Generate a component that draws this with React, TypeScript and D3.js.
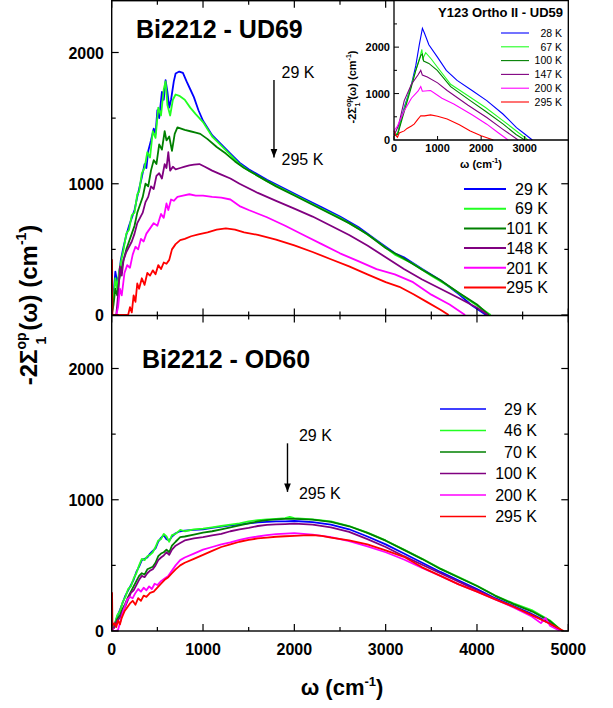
import React, { useEffect, useRef } from 'react';
import * as d3 from 'd3';

type Pt = [number, number];

const xTicks = [0, 1000, 2000, 3000, 4000, 5000];
const yTicks = [0, 1000, 2000];
const insetXTicks = [0, 1000, 2000, 3000];
const insetYTicks = [0, 1000, 2000];

const ud69Temps = ['29 K', '69 K', '101 K', '148 K', '201 K', '295 K'];
const od60Temps = ['29 K', '46 K', '70 K', '100 K', '200 K', '295 K'];
const y123Temps = ['28 K', '67 K', '100 K', '147 K', '200 K', '295 K'];

const tempColors = ['#0000ff', '#22ff22', '#008000', '#800080', '#ff00ff', '#ff0000'];

// Bi2212 UD69 (top panel)
const ud69_29: Pt[] = [[0,0],[20,150],[40,330],[60,250],[80,300],[100,420],[130,520],[160,610],[190,680],[220,740],[250,800],[280,900],[300,960],[330,1050],[360,1150],[380,1120],[400,1250],[430,1330],[460,1420],[480,1380],[500,1560],[520,1500],[550,1700],[570,1640],[590,1790],[610,1700],[630,1580],[650,1640],[680,1780],[700,1840],[740,1855],[780,1845],[820,1780],[860,1720],[900,1660],[950,1560],[1000,1480],[1100,1370],[1200,1300],[1300,1230],[1400,1160],[1500,1110],[1700,1030],[1900,960],[2100,890],[2300,820],[2500,750],[2700,670],[2900,570],[3000,520],[3100,470],[3200,440],[3400,350],[3600,265],[3800,160],[3950,70],[4100,0]];
const ud69_69: Pt[] = [[0,0],[20,120],[40,280],[60,200],[80,330],[100,400],[130,500],[160,620],[190,650],[220,760],[250,780],[280,920],[300,940],[330,1080],[360,1120],[390,1240],[420,1200],[450,1400],[480,1350],[510,1580],[540,1520],[570,1720],[590,1780],[610,1600],[640,1520],[670,1640],[700,1680],[740,1670],[800,1640],[860,1580],[920,1530],[1000,1470],[1100,1360],[1200,1290],[1300,1220],[1400,1150],[1500,1100],[1700,1020],[1900,950],[2100,880],[2300,810],[2500,740],[2700,660],[2900,565],[3100,460],[3300,390],[3500,300],[3700,215],[3900,120],[4150,0]];
const ud69_101: Pt[] = [[0,0],[20,80],[40,200],[60,150],[80,260],[100,330],[130,420],[160,500],[190,560],[220,620],[250,680],[280,780],[310,840],[340,900],[370,1000],[400,980],[430,1100],[460,1180],[490,1150],[520,1300],[550,1260],[580,1400],[600,1330],[630,1360],[660,1250],[690,1380],[720,1430],[760,1420],[800,1410],[860,1400],[920,1390],[970,1380],[1050,1340],[1150,1280],[1250,1230],[1350,1170],[1450,1120],[1600,1060],[1800,980],[2000,910],[2200,840],[2400,770],[2600,700],[2800,615],[3000,510],[3200,430],[3400,345],[3600,265],[3800,170],[4000,80],[4130,0]];
const ud69_148: Pt[] = [[0,0],[50,0],[70,150],[90,370],[110,300],[130,420],[160,480],[190,520],[220,560],[250,620],[280,700],[310,740],[340,780],[370,860],[400,900],[430,980],[460,960],[490,1060],[520,1080],[550,1040],[580,1150],[600,1120],[620,1240],[640,1100],[670,1130],[700,1110],[750,1120],[800,1130],[850,1140],[900,1145],[960,1150],[1020,1130],[1100,1100],[1200,1070],[1300,1040],[1400,1000],[1600,930],[1800,870],[2000,810],[2200,750],[2400,680],[2600,610],[2800,530],[3000,440],[3200,350],[3400,270],[3600,200],[3800,130],[4000,55],[4120,0]];
const ud69_201: Pt[] = [[0,0],[50,0],[70,60],[90,200],[110,150],[140,320],[170,380],[200,360],[230,460],[260,520],[290,500],[320,580],[350,560],[380,620],[420,660],[460,700],[500,680],[540,770],[570,740],[600,850],[620,800],[650,880],[680,870],[720,900],[780,910],[850,920],[920,910],[1000,910],[1100,900],[1200,895],[1300,880],[1400,830],[1500,800],[1700,745],[1900,680],[2100,610],[2300,540],[2500,470],[2700,410],[2900,350],[3100,310],[3300,250],[3500,155],[3700,80],[3870,0]];
const ud69_295: Pt[] = [[0,0],[3,420],[8,0],[180,0],[200,60],[220,20],[240,150],[260,100],[280,240],[300,200],[330,280],[360,230],[390,320],[420,300],[450,340],[480,310],[510,380],[540,350],[570,400],[600,390],[630,420],[660,500],[700,540],[750,570],[800,580],[870,600],[950,615],[1050,630],[1150,650],[1250,660],[1350,650],[1450,630],[1600,610],[1800,575],[2000,530],[2200,480],[2400,425],[2600,370],[2800,310],[3000,250],[3150,215],[3300,160],[3450,100],[3600,40],[3690,0]];

// Bi2212 OD60 (bottom panel)
const od60_29: Pt[] = [[0,0],[30,45],[60,110],[90,160],[120,215],[150,270],[180,310],[210,350],[240,390],[270,450],[300,490],[330,540],[360,550],[390,560],[420,590],[450,610],[480,630],[510,680],[540,710],[570,730],[600,700],[630,690],[660,720],[700,745],[750,760],[800,765],[900,770],[1000,775],[1100,785],[1200,795],[1300,805],[1400,812],[1500,820],[1600,828],[1700,832],[1800,835],[1900,835],[2000,838],[2200,830],[2400,810],[2600,775],[2800,720],[3000,660],[3200,590],[3400,520],[3600,450],[3800,385],[4000,320],[4200,250],[4400,190],[4600,130],[4800,60],[4920,0]];
const od60_46: Pt[] = [[0,0],[30,40],[60,120],[90,150],[120,220],[150,260],[180,320],[210,340],[240,400],[270,440],[300,500],[330,550],[360,540],[390,570],[420,580],[450,600],[480,640],[510,690],[540,700],[570,740],[600,720],[630,680],[660,730],[700,740],[750,770],[800,760],[900,775],[1000,780],[1100,790],[1200,800],[1300,810],[1400,820],[1500,835],[1600,845],[1700,850],[1800,855],[1900,860],[1950,870],[2000,860],[2200,850],[2400,835],[2600,800],[2800,750],[3000,690],[3200,620],[3400,550],[3600,475],[3800,410],[4000,345],[4200,270],[4400,210],[4600,160],[4800,80],[4930,0]];
const od60_70: Pt[] = [[0,0],[30,30],[60,90],[90,120],[120,170],[150,210],[180,260],[210,300],[240,340],[270,380],[300,420],[330,440],[360,430],[390,470],[420,480],[450,490],[480,520],[510,570],[540,590],[570,600],[600,620],[630,600],[660,650],[700,680],[750,715],[800,720],[900,735],[1000,750],[1100,760],[1200,775],[1300,790],[1400,805],[1500,820],[1600,835],[1700,845],[1800,850],[1900,855],[2000,855],[2200,848],[2400,832],[2600,798],[2800,748],[3000,688],[3200,618],[3400,548],[3600,473],[3800,408],[4000,343],[4200,268],[4400,205],[4600,150],[4800,75],[4930,0]];
const od60_100: Pt[] = [[0,0],[30,30],[60,80],[90,100],[120,150],[150,190],[180,240],[210,290],[240,310],[270,350],[300,390],[330,420],[360,410],[390,440],[420,460],[450,470],[480,500],[510,540],[540,560],[570,575],[600,600],[630,580],[660,620],[700,650],[750,670],[800,690],[900,705],[1000,715],[1100,728],[1200,740],[1300,760],[1400,775],[1500,785],[1600,800],[1700,808],[1800,812],[1900,815],[2000,818],[2200,810],[2400,790],[2600,755],[2800,700],[3000,640],[3200,570],[3400,505],[3600,440],[3800,375],[4000,310],[4200,245],[4400,185],[4600,125],[4800,55],[4920,0]];
const od60_200: Pt[] = [[0,30],[20,0],[50,0],[70,10],[90,60],[110,110],[130,160],[150,200],[170,240],[200,260],[230,250],[260,290],[290,320],[320,300],[350,330],[380,310],[410,340],[440,320],[470,360],[500,350],[540,380],[580,400],[620,420],[660,460],[700,500],[750,540],[800,560],[900,590],[1000,620],[1100,640],[1200,660],[1300,675],[1400,695],[1500,710],[1600,720],[1700,730],[1800,738],[1900,742],[2000,745],[2200,735],[2400,715],[2600,685],[2800,645],[3000,600],[3200,545],[3400,480],[3600,420],[3800,355],[4000,300],[4200,240],[4400,180],[4600,110],[4700,60],[4750,100],[4800,40],[4910,0]];
const od60_295: Pt[] = [[0,0],[4,290],[8,40],[30,60],[50,30],[70,80],[90,50],[110,100],[140,150],[170,180],[200,210],[230,230],[260,200],[290,250],[320,230],[350,270],[380,260],[420,290],[460,300],[500,330],[540,360],[580,390],[620,410],[660,440],[700,470],[750,500],[800,520],[900,550],[1000,580],[1100,610],[1200,640],[1300,660],[1400,680],[1500,695],[1600,705],[1700,712],[1800,718],[1900,722],[2000,725],[2100,728],[2200,730],[2300,725],[2400,712],[2600,690],[2800,660],[3000,615],[3200,565],[3400,485],[3600,420],[3800,355],[4000,300],[4200,240],[4400,185],[4600,120],[4800,55],[4950,0]];

// Y123 Ortho II UD59 (inset)
const y123_28: Pt[] = [[0,150],[40,100],[84,124],[150,400],[250,750],[386,1137],[500,1600],[580,2050],[652,2406],[700,2300],[800,2050],[993,1789],[1200,1500],[1447,1283],[1800,1060],[2129,848],[2500,560],[2811,267],[3000,130],[3175,0]];
const y123_67: Pt[] = [[0,100],[84,150],[200,550],[386,1150],[500,1500],[600,1800],[640,1950],[660,1750],[727,1880],[850,1750],[993,1572],[1300,1200],[1750,920],[2100,700],[2507,413],[2800,200],[3075,0]];
const y123_100: Pt[] = [[0,100],[84,120],[200,500],[386,1100],[500,1500],[614,1819],[650,1850],[680,1700],[800,1650],[993,1500],[1300,1150],[1750,848],[2100,620],[2507,341],[2800,120],[3000,0]];
const y123_147: Pt[] = [[0,100],[50,200],[100,300],[235,848],[400,1200],[550,1400],[614,1500],[650,1400],[765,1355],[1000,1230],[1220,1065],[1700,750],[2129,485],[2500,230],[2850,0]];
const y123_200: Pt[] = [[0,200],[80,300],[235,630],[400,900],[550,1050],[614,1150],[650,1050],[840,1065],[1100,900],[1372,775],[1800,540],[2129,341],[2400,150],[2620,0]];
const y123_295: Pt[] = [[0,200],[40,100],[80,60],[120,150],[235,196],[300,250],[400,300],[462,341],[550,450],[614,522],[700,520],[840,541],[1000,510],[1220,451],[1500,330],[1750,196],[2000,90],[2280,0]];

const ud69Series = [ud69_29, ud69_69, ud69_101, ud69_148, ud69_201, ud69_295];
const od60Series = [od60_29, od60_46, od60_70, od60_100, od60_200, od60_295];
const y123Series = [y123_28, y123_67, y123_100, y123_147, y123_200, y123_295];

const FONT = "Arial, 'Liberation Sans', sans-serif";

const App = () => {
  const chartRef = useRef<SVGSVGElement | null>(null);

  useEffect(() => {
    if (chartRef.current) drawChart();
  }, []);

  const drawChart = () => {
    const svg = d3.select(chartRef.current);
    svg.selectAll('*').remove();
    svg.style('font-family', FONT);

    const x = d3.scaleLinear().domain([0, 5000]).range([111.7, 568.3]);
    const yTop = d3.scaleLinear().domain([0, 2400]).range([315, 0]);
    const yBot = d3.scaleLinear().domain([0, 2400]).range([631, 316]);

    const clip = svg.append('defs');
    clip.append('clipPath').attr('id', 'clipTop')
      .append('rect').attr('x', x(0)).attr('y', 0).attr('width', x(5000) - x(0)).attr('height', 315);
    clip.append('clipPath').attr('id', 'clipBot')
      .append('rect').attr('x', x(0)).attr('y', 316).attr('width', x(5000) - x(0)).attr('height', 315);
    clip.append('marker').attr('id', 'arrowHead')
      .attr('viewBox', '0 0 10 10').attr('refX', 10).attr('refY', 5)
      .attr('markerWidth', 6).attr('markerHeight', 6).attr('orient', 'auto')
      .append('path').attr('d', 'M0,1 L10,5 L0,9 Z').attr('fill', '#000');

    const drawPanel = (series: Pt[][], y: d3.ScaleLinear<number, number>, clipId: string) => {
      const line = d3.line<Pt>().x(d => x(d[0])).y(d => y(d[1]));
      const g = svg.append('g').attr('clip-path', `url(#${clipId})`);
      series.forEach((s, i) => {
        g.append('path').attr('d', line(s)).attr('fill', 'none')
          .attr('stroke', tempColors[i]).attr('stroke-width', 1.8).attr('stroke-linejoin', 'round');
      });
    };
    drawPanel(ud69Series, yTop, 'clipTop');
    drawPanel(od60Series, yBot, 'clipBot');

    // frame and inward ticks
    const axes = svg.append('g').attr('stroke', '#000').attr('fill', 'none');
    axes.append('rect').attr('x', x(0)).attr('y', 0.7).attr('width', x(5000) - x(0)).attr('height', 631 - 0.7)
      .attr('stroke-width', 1.4);
    axes.append('line').attr('x1', x(0)).attr('x2', x(5000)).attr('y1', 315.5).attr('y2', 315.5).attr('stroke-width', 1.4);

    const xMinor = d3.range(500, 5000, 1000);
    const yMinor = [500, 1500];
    [0.7, 315.5, 631].forEach((yy, k) => {
      const dirs = k === 0 ? [1] : k === 1 ? [-1, 1] : [-1];
      dirs.forEach(dir => {
        xTicks.forEach(t => axes.append('line').attr('x1', x(t)).attr('x2', x(t)).attr('y1', yy).attr('y2', yy + dir * 7).attr('stroke-width', 1.2));
        xMinor.forEach(t => axes.append('line').attr('x1', x(t)).attr('x2', x(t)).attr('y1', yy).attr('y2', yy + dir * 4).attr('stroke-width', 1.2));
      });
    });
    [yTop, yBot].forEach(y => {
      [x(0), x(5000)].forEach((xx, k) => {
        const dir = k === 0 ? 1 : -1;
        yTicks.forEach(t => axes.append('line').attr('x1', xx).attr('x2', xx + dir * 7).attr('y1', y(t)).attr('y2', y(t)).attr('stroke-width', 1.2));
        yMinor.forEach(t => axes.append('line').attr('x1', xx).attr('x2', xx + dir * 4).attr('y1', y(t)).attr('y2', y(t)).attr('stroke-width', 1.2));
      });
    });

    // tick labels
    const labels = svg.append('g').attr('font-weight', 'bold').attr('font-size', 16).attr('fill', '#000');
    xTicks.forEach(t => labels.append('text').attr('x', x(t)).attr('y', 655).attr('text-anchor', 'middle').text(t));
    [yTop, yBot].forEach(y => {
      yTicks.forEach(t => labels.append('text').attr('x', 104).attr('y', y(t) + 6).attr('text-anchor', 'end').text(t));
    });

    // axis titles
    const xt = svg.append('text').attr('x', 342).attr('y', 695).attr('text-anchor', 'middle')
      .attr('font-size', 22).attr('font-weight', 'bold');
    xt.append('tspan').text('\u03c9 (cm');
    xt.append('tspan').attr('font-size', 13).attr('dy', -9).text('-1');
    xt.append('tspan').attr('dy', 9).text(')');

    const yt = svg.append('text').attr('transform', 'translate(37,305) rotate(-90)').attr('text-anchor', 'middle')
      .attr('font-size', 24).attr('font-weight', 'bold');
    yt.append('tspan').text('-2\u03a3');
    yt.append('tspan').attr('font-size', 14).attr('dy', -11).text('op');
    yt.append('tspan').attr('font-size', 14).attr('dx', -12).attr('dy', 20).text('1');
    yt.append('tspan').attr('dy', -9).attr('dx', 6).text('(\u03c9) (cm');
    yt.append('tspan').attr('font-size', 14).attr('dy', -11).text('-1');
    yt.append('tspan').attr('dy', 11).text(')');

    // panel titles
    svg.append('text').attr('x', 136).attr('y', 38).attr('font-size', 25).attr('font-weight', 'bold').text('Bi2212 - UD69');
    svg.append('text').attr('x', 142).attr('y', 368).attr('font-size', 25).attr('font-weight', 'bold').text('Bi2212 - OD60');

    // temperature arrows
    const arrow = (xv: number, y: d3.ScaleLinear<number, number>, y0: number, y1: number, tx: number) => {
      svg.append('line').attr('x1', x(xv)).attr('x2', x(xv)).attr('y1', y(y0)).attr('y2', y(y1))
        .attr('stroke', '#000').attr('stroke-width', 1.4).attr('marker-end', 'url(#arrowHead)');
      svg.append('text').attr('x', x(tx)).attr('y', y(y0) - 2).attr('font-size', 16).text('29 K');
      svg.append('text').attr('x', x(tx)).attr('y', y(y1) + 7).attr('font-size', 16).text('295 K');
    };
    arrow(1777, yTop, 1790, 1200, 1860);
    arrow(1925, yBot, 1430, 1060, 2050);

    // legends
    const legend = (labelsT: string[], x0: number, x1: number, xText: number, y0: number, dy: number, fs: number, sw: number) => {
      const lg = svg.append('g');
      labelsT.forEach((d, i) => {
        lg.append('line').attr('x1', x0).attr('x2', x1).attr('y1', y0 + i * dy).attr('y2', y0 + i * dy)
          .attr('stroke', tempColors[i]).attr('stroke-width', sw);
        lg.append('text').attr('x', xText).attr('y', y0 + i * dy + fs * 0.36).attr('text-anchor', 'end')
          .attr('font-size', fs).text(d);
      });
    };
    legend(ud69Temps, 464, 506, 548, 189, 19.7, 16, 2);
    legend(od60Temps, 440, 486, 537, 409, 21.5, 16, 1.6);

    // inset
    const xi = d3.scaleLinear().domain([0, 4000]).range([394, 568.3]);
    const yi = d3.scaleLinear().domain([0, 3000]).range([140, 0.7]);
    const ins = svg.append('g');
    ins.append('rect').attr('x', 394).attr('y', 0.7).attr('width', 568.3 - 394).attr('height', 139.3).attr('fill', '#fff');
    const iline = d3.line<Pt>().x(d => xi(d[0])).y(d => yi(d[1]));
    y123Series.forEach((s, i) => {
      ins.append('path').attr('d', iline(s)).attr('fill', 'none').attr('stroke', tempColors[i]).attr('stroke-width', 1.1);
    });
    ins.append('path').attr('d', `M${xi(0)},0.7 V${yi(0)} H${xi(4000)} V0.7 Z`).attr('fill', 'none').attr('stroke', '#000').attr('stroke-width', 1.3);
    [500, 1000, 1500, 2000, 2500].forEach(t => {
      const len = t % 1000 === 0 ? 5 : 3;
      ins.append('line').attr('x1', xi(0)).attr('x2', xi(0) + len).attr('y1', yi(t)).attr('y2', yi(t)).attr('stroke', '#000');
    });
    insetXTicks.forEach(t => {
      ins.append('line').attr('x1', xi(t)).attr('x2', xi(t)).attr('y1', yi(0)).attr('y2', yi(0) - 4).attr('stroke', '#000');
    });
    const il = ins.append('g').attr('font-weight', 'bold').attr('font-size', 11);
    insetXTicks.forEach(t => il.append('text').attr('x', xi(t)).attr('y', 152).attr('text-anchor', 'middle').text(t));
    insetYTicks.forEach(t => il.append('text').attr('x', 390).attr('y', yi(t) + 4).attr('text-anchor', 'end').text(t));
    const ixt = ins.append('text').attr('x', 481).attr('y', 168).attr('text-anchor', 'middle').attr('font-size', 11).attr('font-weight', 'bold');
    ixt.append('tspan').text('\u03c9 (cm');
    ixt.append('tspan').attr('font-size', 7).attr('dy', -5).text('-1');
    ixt.append('tspan').attr('dy', 5).text(')');
    const iyt = ins.append('text').attr('transform', 'translate(356,87) rotate(-90)').attr('text-anchor', 'middle')
      .attr('font-size', 11).attr('font-weight', 'bold');
    iyt.append('tspan').text('-2\u03a3');
    iyt.append('tspan').attr('font-size', 7).attr('dy', -5).text('op');
    iyt.append('tspan').attr('font-size', 7).attr('dx', -8).attr('dy', 9).text('1');
    iyt.append('tspan').attr('dy', -4).attr('dx', 3).text('(\u03c9) (cm');
    iyt.append('tspan').attr('font-size', 7).attr('dy', -5).text('-1');
    iyt.append('tspan').attr('dy', 5).text(')');
    ins.append('text').attr('x', 563).attr('y', 17).attr('text-anchor', 'end').attr('font-size', 13)
      .attr('font-weight', 'bold').text('Y123 Ortho II - UD59');
    legend(y123Temps, 501, 529, 562, 33, 13.8, 10.5, 1.1);
  };

  return <svg ref={chartRef} width={613} height={708} style={{ position: 'absolute', left: 0, top: 0 }} />;
};

export default App;
